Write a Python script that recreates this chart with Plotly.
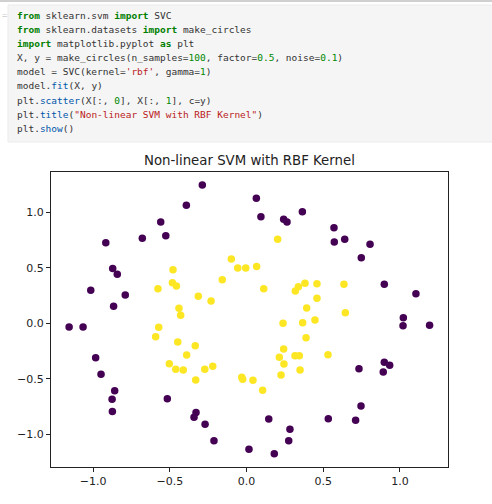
import plotly.graph_objects as go

# ---- data ----
class0_x = [-0.288, -0.392, -0.559, -0.526, -0.679, -0.917, -0.872, -0.842, -1.015, -0.790,
            -0.866, -1.156, -1.065, -0.983, -0.948, -0.859, -0.876, -0.874, -0.516, -0.329,
            -0.342, -0.270, -0.212, 0.016, 0.181, 0.145, 0.283, 0.275, 0.533, 0.711,
            0.746, 0.733, 0.891, 0.898, 0.933, 1.020, 1.193, 0.064, 0.094, 0.242,
            0.264, 0.364, 0.570, 0.572, 0.640, 0.805, 0.748, 0.898, 1.104, 1.022]
class0_y = [1.248, 1.065, 0.914, 0.791, 0.767, 0.728, 0.496, 0.442, 0.298, 0.255,
            0.153, -0.033, -0.033, -0.310, -0.460, -0.608, -0.686, -0.795, -0.680, -0.804,
            -0.848, -0.912, -1.059, -1.137, -1.177, -0.864, -0.957, -1.059, -0.861, -0.876,
            -0.746, -0.409, -0.440, -0.352, -0.379, -0.021, -0.018, 1.128, 0.962, 0.939,
            0.914, 1.007, 0.863, 0.734, 0.758, 0.713, 0.592, 0.352, 0.267, 0.051]
class1_x = [-0.099, -0.057, -0.005, 0.066, -0.479, -0.577, -0.483, -0.457, -0.158, -0.314,
            -0.231, -0.440, -0.429, -0.572, -0.592, -0.448, -0.334, -0.390, -0.503, -0.461,
            -0.412, -0.272, -0.220, -0.331, -0.031, -0.025, 0.042, 0.105, 0.238, 0.366,
            0.446, 0.388, 0.242, 0.214, 0.244, 0.316, 0.344, 0.349, 0.225, 0.531,
            0.203, 0.112, 0.318, 0.338, 0.381, 0.459, 0.459, 0.635, 0.392, 0.644]
class1_y = [0.580, 0.499, 0.499, 0.514, 0.484, 0.312, 0.367, 0.337, 0.394, 0.244,
            0.201, 0.135, 0.072, -0.036, -0.121, -0.169, -0.202, -0.286, -0.364, -0.415,
            -0.421, -0.415, -0.388, -0.512, -0.487, -0.505, -0.515, -0.605, 0.000, 0.005,
            0.030, -0.130, -0.232, -0.307, -0.367, -0.292, -0.292, -0.421, -0.467, -0.283,
            0.758, 0.312, 0.292, 0.330, 0.361, 0.357, 0.226, 0.352, 0.138, 0.096]
x_ticks = [-1.0, -0.5, 0.0, 0.5, 1.0]
y_ticks = [-1.0, -0.5, 0.0, 0.5, 1.0]
title_text = "Non-linear SVM with RBF Kernel"

# ---- layout geometry (pixels) ----
W, H = 492, 504
L, R, T, B = 51, 448, 172, 467

def px(x):
    return (x - L) / (R - L)

def py(y):
    return (B - y) / (B - T)

KW = "color:#008000"
NUM = "color:#008800"
STR = "color:#BA2121"
PROP = "color:#0055AA"

def kw(t):
    return f'<b><span style="{KW}">{t}</span></b>'

def num(t):
    return f'<span style="{NUM}">{t}</span>'

def st(t):
    return f'<span style="{STR}">{t}</span>'

def pr(t):
    return f'<span style="{PROP}">{t}</span>'

code_lines = [
    f"{kw('from')} sklearn.svm {kw('import')} SVC",
    f"{kw('from')} sklearn.datasets {kw('import')} make_circles",
    f"{kw('import')} matplotlib.pyplot {kw('as')} plt",
    f"X, y = make_circles(n_samples={num('100')}, factor={num('0.5')}, noise={num('0.1')})",
    f"model = SVC(kernel={st(chr(39) + 'rbf' + chr(39))}, gamma={num('1')})",
    f"model.{pr('fit')}(X, y)",
    f"plt.{pr('scatter')}(X[:, {num('0')}], X[:, {num('1')}], c=y)",
    f"plt.{pr('title')}({st(chr(34) + 'Non-linear SVM with RBF Kernel' + chr(34))})",
    f"plt.{pr('show')}()",
]
line_y = [15, 29.2, 43.3, 57.5, 71.6, 85.8, 100, 114.1, 128.3]

fig = go.Figure()
fig.add_trace(go.Scatter(x=class0_x, y=class0_y, mode="markers",
                         marker=dict(color="#440154", size=7.5, line=dict(width=0)),
                         showlegend=False, hoverinfo="skip"))
fig.add_trace(go.Scatter(x=class1_x, y=class1_y, mode="markers",
                         marker=dict(color="#fde725", size=7.5, line=dict(width=0)),
                         showlegend=False, hoverinfo="skip"))

shapes = [
    dict(type="rect", xref="paper", yref="paper", x0=px(0), x1=px(W), y0=py(2), y1=py(0),
         fillcolor="#d0d0d0", line=dict(width=0), layer="below"),
    dict(type="rect", xref="paper", yref="paper", x0=px(8), x1=px(W + 2), y0=py(142), y1=py(5),
         fillcolor="#f5f5f5", line=dict(color="#ebebeb", width=1), layer="below"),
]

annotations = []
for txt, yy in zip(code_lines, line_y):
    annotations.append(dict(text=txt, xref="paper", yref="paper", x=px(14.5), y=py(yy),
                            xanchor="left", yanchor="middle", showarrow=False,
                            font=dict(family="DejaVu Sans Mono", size=9.5, color="#333333")))
annotations.append(dict(text="=", xref="paper", yref="paper", x=px(0), y=py(15),
                        xanchor="left", yanchor="middle", showarrow=False,
                        font=dict(family="DejaVu Sans Mono", size=9, color="#cccccc")))
annotations.append(dict(text=title_text, xref="paper", yref="paper", x=px((L + R) / 2), y=py(160),
                        xanchor="center", yanchor="middle", showarrow=False,
                        font=dict(family="DejaVu Sans", size=13.3, color="#222222")))

fig.update_layout(
    width=W, height=H,
    margin=dict(l=L, r=W - R, t=T, b=H - B, pad=0),
    paper_bgcolor="white", plot_bgcolor="white",
    shapes=shapes, annotations=annotations,
    xaxis=dict(range=[-1.274, 1.313], tickvals=x_ticks,
               ticktext=[f"{v:.1f}".replace("-", "\u2212") for v in x_ticks],
               showgrid=False, zeroline=False, showline=True, mirror=True, linecolor="#222222", linewidth=1,
               ticks="outside", ticklen=4, tickcolor="#222222",
               tickfont=dict(family="DejaVu Sans", size=11, color="#222222")),
    yaxis=dict(range=[-1.297, 1.366], tickvals=y_ticks,
               ticktext=[f"{v:.1f}".replace("-", "\u2212") for v in y_ticks],
               showgrid=False, zeroline=False, showline=True, mirror=True, linecolor="#222222", linewidth=1,
               ticks="outside", ticklen=4, tickcolor="#222222",
               tickfont=dict(family="DejaVu Sans", size=11, color="#222222")),
)

fig.write_html("out.html", config={"displayModeBar": False},
               post_script="document.body.style.margin='0';document.body.style.overflow='hidden';")
